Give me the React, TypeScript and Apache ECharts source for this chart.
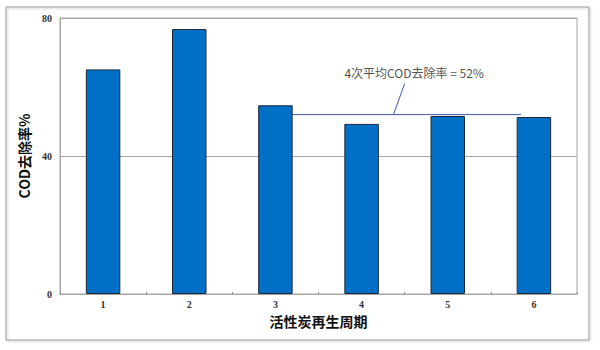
import React, { useEffect, useRef } from "react";
import * as echarts from "echarts";

const categories = ["1", "2", "3", "4", "5", "6"];
const removalRates = [65.1, 76.8, 54.7, 49.3, 51.6, 51.3];
const avgValue = 52;
const avgLineX = [2.5, 5.35];
const leaderX = [3.87, 4.0];
const leaderY = [52, 61];
const annotationPos = [4.11, 64.3];
const annotationText = "4次平均COD去除率 = 52%";
const yTicks = { min: 0, max: 80, interval: 40 };

export default function App() {
  const ref = useRef<HTMLDivElement>(null);
  useEffect(() => {
    if (!ref.current) return;
    const chart = echarts.init(ref.current, null, { renderer: "svg" });
    const gray = "#a6a6a6";
    chart.setOption({
      animation: false,
      backgroundColor: "#ffffff",
      graphic: [
        {
          type: "rect",
          shape: { x: 6, y: 7, width: 583, height: 333 },
          style: { fill: "none", stroke: "#9a9a9a", lineWidth: 1, shadowBlur: 2, shadowColor: "rgba(0,0,0,0.25)", shadowOffsetX: 1, shadowOffsetY: 1 },
          z: -10,
        },
      ],
      grid: { left: 60, right: 23, top: 18, bottom: 56, show: true, borderColor: gray, borderWidth: 1 },
      xAxis: [
        {
          type: "category",
          data: categories,
          boundaryGap: true,
          axisLine: { lineStyle: { color: gray } },
          axisTick: { show: true, inside: true, length: 2, lineStyle: { color: "#888" } },
          axisLabel: { fontFamily: "Liberation Serif", fontWeight: "bold", fontSize: 10, color: "#333", margin: 5 },
          name: "活性炭再生周期",
          nameLocation: "middle",
          nameGap: 20,
          nameTextStyle: { fontFamily: "Noto Sans CJK SC", fontSize: 14, fontWeight: "bold", color: "#111" },
        },
        { type: "value", min: 0, max: 6, show: false },
      ],
      yAxis: {
        type: "value",
        min: yTicks.min,
        max: yTicks.max,
        interval: yTicks.interval,
        axisLine: { show: true, lineStyle: { color: gray } },
        axisTick: { show: false },
        splitLine: { lineStyle: { color: gray } },
        axisLabel: { fontFamily: "Liberation Serif", fontWeight: "bold", fontSize: 10, color: "#333", margin: 8 },
        name: "COD去除率%",
        nameLocation: "middle",
        nameGap: 21,
        nameTextStyle: { fontFamily: "Noto Sans CJK SC", fontSize: 14, fontWeight: "bold", color: "#111" },
      },
      series: [
        {
          type: "line",
          xAxisIndex: 1,
          data: avgLineX.map((x) => [x, avgValue]),
          symbol: "none",
          lineStyle: { color: "#3b5ba5", width: 1 },
          z: 1,
          silent: true,
        },
        {
          type: "bar",
          data: removalRates,
          barWidth: "40%",
          itemStyle: { color: "#0070c6", borderColor: "#1b2838", borderWidth: 1 },
          z: 2,
        },
        {
          type: "line",
          xAxisIndex: 1,
          data: leaderX.map((x, i) => [x, leaderY[i]]),
          symbol: "none",
          lineStyle: { color: "#3b5ba5", width: 1 },
          z: 3,
          silent: true,
        },
        {
          type: "scatter",
          xAxisIndex: 1,
          data: [annotationPos],
          symbolSize: 0,
          label: {
            show: true,
            position: "inside",
            formatter: annotationText,
            fontFamily: "Noto Sans CJK SC",
            fontSize: 12,
            color: "#222",
          },
          z: 4,
          silent: true,
        },
      ],
    });
    return () => chart.dispose();
  }, []);
  return <div ref={ref} style={{ position: "absolute", left: 0, top: 0, width: 600, height: 350 }} />;
}
